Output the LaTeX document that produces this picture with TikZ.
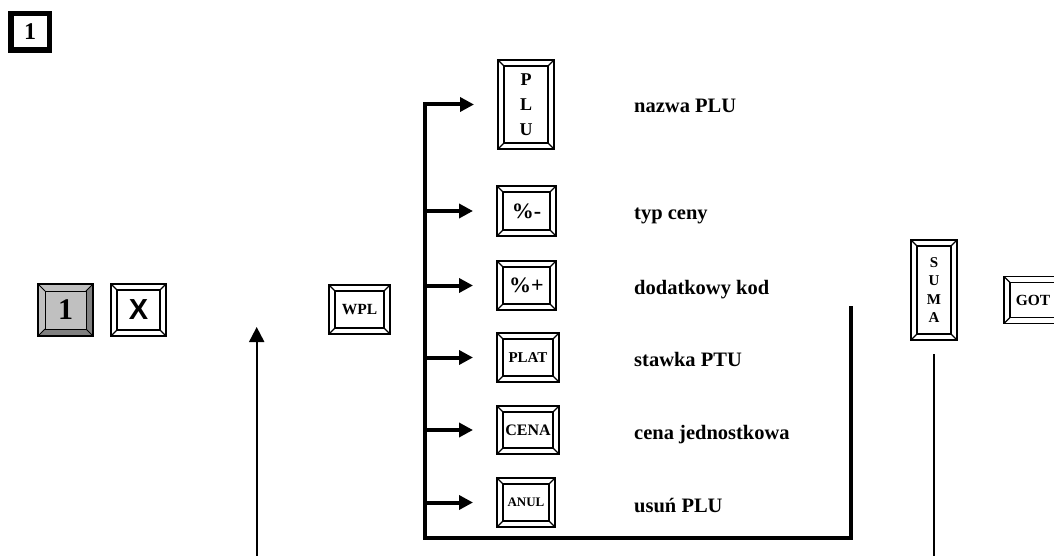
\documentclass[tikz,border=0pt]{standalone}
\usepackage{fontspec}
\setmainfont{Liberation Serif}
\newfontfamily\arialfont{Liberation Sans}
\usetikzlibrary{arrows.meta}
\pgfdeclarelayer{bg}
\pgfsetlayers{bg,main}
\definecolor{keygray}{HTML}{C0C0C0}
\definecolor{keydark}{HTML}{808080}
\tikzset{
  keyn/.style={inner sep=0pt, outer sep=0pt, align=center, anchor=west},
  keyo/.style={line width=1.8pt},
  keyi/.style={line width=1.1pt},
  trunk/.style={line width=4pt, line join=miter},
  arr/.style={-{Triangle[length=14pt,width=14pt]}},
  thinl/.style={line width=2pt},
  lab/.style={font=\bfseries\fontsize{20.5}{24}\selectfont, inner sep=0pt, anchor=base west},
}
% name, x-left, y-center, width, height, font, text
\newcommand\bkey[7]{%
  \node[keyn, minimum width=#4pt, minimum height=#5pt, font=#6] (#1) at (#2,#3) {#7};
  \draw[keyo] (#1.north west) rectangle (#1.south east);
  \draw[keyi] ([shift={(6pt,-6pt)}]#1.north west) rectangle ([shift={(-6pt,6pt)}]#1.south east);
  \draw[keyi] (#1.north west) -- ++(6pt,-6pt) (#1.north east) -- ++(-6pt,-6pt)
              (#1.south west) -- ++(6pt,6pt) (#1.south east) -- ++(-6pt,6pt);
}
\begin{document}
\begin{tikzpicture}[x=1pt,y=-1pt]
\useasboundingbox (0,0) rectangle (1054,556);
\clip (0,0) rectangle (1054,556);

% step tag
\node[draw, line width=5.5pt, minimum width=38.5pt, minimum height=36.5pt, inner sep=0pt, outer sep=0pt,
      font=\bfseries\fontsize{24}{24}\selectfont] (tag) at (30,32) {1};

% grey key 1
\node[keyn, minimum width=55pt, minimum height=52pt, font=\bfseries\fontsize{30}{30}\selectfont] (k1) at (38,310) {1};
\begin{pgfonlayer}{bg}
  \fill[keygray] (k1.north west) rectangle (k1.south east);
  \fill[keydark] (k1.north east) -- ++(-7pt,-7pt) -- ([shift={(-7pt,7pt)}]k1.south east) -- (k1.south east) -- cycle;
  \fill[keydark] (k1.south west) -- ++(7pt,7pt) -- ([shift={(-7pt,7pt)}]k1.south east) -- (k1.south east) -- cycle;
\end{pgfonlayer}
\draw[keyo] (k1.north west) rectangle (k1.south east);
\draw[line width=0.8pt] ([shift={(7pt,-7pt)}]k1.north west) rectangle ([shift={(-7pt,7pt)}]k1.south east);
\draw[line width=0.8pt] (k1.north west) -- ++(7pt,-7pt) (k1.north east) -- ++(-7pt,-7pt)
            (k1.south west) -- ++(7pt,7pt) (k1.south east) -- ++(-7pt,7pt);

% keys
\bkey{kx}{111}{310}{55}{52}{\arialfont\bfseries\fontsize{29}{29}\selectfont}{X}
\bkey{wpl}{329}{309.5}{61}{49}{\bfseries\fontsize{15.5}{15.5}\selectfont}{WPL}
\bkey{plu}{498}{104.5}{56}{89}{\bfseries\fontsize{18}{25}\selectfont}{P\\L\\U}
\bkey{pm}{497}{211}{59}{50}{\bfseries\fontsize{22}{22}\selectfont}{\%-}
\bkey{pp}{497}{285.5}{59}{49}{\bfseries\fontsize{22}{22}\selectfont}{\%+}
\bkey{plat}{497}{357.5}{62}{49}{\bfseries\fontsize{15}{15}\selectfont}{PLAT}
\bkey{cena}{497}{430}{62}{48}{\bfseries\fontsize{16}{16}\selectfont}{CENA}
\bkey{anul}{497}{502.5}{58}{49}{\bfseries\fontsize{13}{13}\selectfont}{ANUL}
\bkey{suma}{911}{290}{46}{100}{\bfseries\fontsize{15}{18.5}\selectfont}{S\\U\\M\\A}
\bkey{got}{1004}{300}{58}{47}{\bfseries\fontsize{15.5}{15.5}\selectfont}{GOT}

% labels
\node[lab] (lplu) at (634,112.5) {nazwa PLU};
\node[lab] (lpm) at (634,219.5) {typ ceny};
\node[lab] (lpp) at (634,294.5) {dodatkowy kod};
\node[lab] (lplat) at (634,366.5) {stawka PTU};
\node[lab] (lcena) at (634,439.5) {cena jednostkowa};
\node[lab] (lanul) at (634,512.5) {usuń PLU};

% trunk and branches
\coordinate (rtop) at (851,306);
\coordinate (corner) at (851,538);
\coordinate (trunkBot) at (425,538);
\draw[trunk, arr, shorten >=24pt] (rtop) -- (corner) -- (trunkBot) -- (plu.west -| trunkBot) -- (plu.west);
\foreach \k in {pm,pp,plat,cena,anul}
  \draw[trunk, arr, shorten >=24pt] (\k.west -| trunkBot) -- (\k.west);

% up arrow
\coordinate (upBot) at (256.7,556);
\coordinate (upTop) at (256.7,327);
\draw[thinl, -{Triangle[length=15pt,width=15pt]}] (upBot) -- (upTop);

% line under SUMA
\coordinate (sumaBot) at (934,556);
\draw[thinl, shorten <=14pt] (suma.south) -- (sumaBot);
\end{tikzpicture}
\end{document}
